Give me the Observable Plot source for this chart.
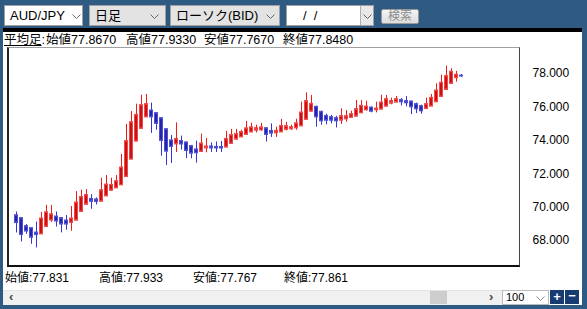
<!DOCTYPE html>
<html><head><meta charset="utf-8">
<script src="https://cdn.jsdelivr.net/npm/d3@7"></script>
<script src="https://cdn.jsdelivr.net/npm/@observablehq/plot@0.6"></script>
<style>
*{box-sizing:border-box}
html,body{margin:0;padding:0}
body{width:587px;height:309px;position:relative;overflow:hidden;background:#2f5a82;font-family:"Liberation Sans","Noto Sans CJK JP",sans-serif;color:#000}
.a{position:absolute;white-space:nowrap}
.box{position:absolute;top:5px;height:21px;border:1px solid #a0a0a0;font-size:13px;line-height:19px;padding-left:5px;white-space:nowrap}
.chev{position:absolute;width:9px;height:5px}
.info{position:absolute;top:33px;font-size:12.5px;line-height:14px;white-space:nowrap}
.bot{position:absolute;top:271px;font-size:12px;line-height:14px;white-space:nowrap}
</style></head><body>
<div class="box" style="left:4px;width:79px;background:#fff">AUD/JPY<svg class="chev" style="left:67px;top:8px"><polyline points="0.5,0.5 4.5,4.5 8.5,0.5" fill="none" stroke="#666"/></svg></div>
<div class="box" style="left:89px;width:77px;background:#e3e3e3">日足<svg class="chev" style="left:60px;top:8px"><polyline points="0.5,0.5 4.5,4.5 8.5,0.5" fill="none" stroke="#666"/></svg></div>
<div class="box" style="left:170px;width:110px;background:#e3e3e3">ローソク(BID)<svg class="chev" style="left:95px;top:8px"><polyline points="0.5,0.5 4.5,4.5 8.5,0.5" fill="none" stroke="#666"/></svg></div>
<div class="box" style="left:286px;width:88px;background:#fff;padding-left:16px">/&nbsp;&nbsp;/
  <div style="position:absolute;left:73px;top:0;width:13px;height:19px;background:#e8e8e8;border-left:1px solid #b0b0b0"><svg class="chev" style="left:2px;top:8px"><polyline points="0.5,0.5 4.5,4.5 8.5,0.5" fill="none" stroke="#666"/></svg></div></div>
<div class="a" style="left:381px;top:9px;width:38px;height:15px;border:1px solid #9a9a9a;border-radius:2px;background:linear-gradient(#f4f4f4,#dcdcdc);color:#8c8c8c;font-size:12px;line-height:13px;text-align:center">検索</div>
<div class="a" style="left:3px;top:28px;width:579px;height:4px;background:#000"></div>
<div class="a" style="left:3px;top:32px;width:579px;height:273px;background:#fff"></div>
<div id="info"></div>
<div class="a" style="left:7px;top:47px;width:513px;height:220px;border-top:1px solid #a0a0a0;border-left:2px solid #222;border-right:1px solid #444;border-bottom:2px solid #111"></div>
<div id="chart" class="a" style="left:0;top:40px"></div>
<div id="bottom"></div>
<div class="a" style="left:3px;top:290px;width:499px;height:15px;background:#f0f0f0;border-top:1px solid #e4e4e4"></div>
<div class="a" style="left:9px;top:289px;font-size:13px;line-height:15px;color:#444;font-weight:bold">&lsaquo;</div>
<div class="a" style="left:489px;top:289px;font-size:13px;line-height:15px;color:#444;font-weight:bold">&rsaquo;</div>
<div class="a" style="left:430px;top:291px;width:17px;height:13px;background:#cdcdcd"></div>
<div class="a" style="left:502px;top:290px;width:47px;height:15px;background:#fff;border:1px solid #bbb;font-size:11px;line-height:13px;padding-left:3px">100<svg class="chev" style="left:33px;top:5px"><polyline points="0.5,0.5 4.5,4.5 8.5,0.5" fill="none" stroke="#888"/></svg></div>
<div class="a" style="left:550px;top:290px;width:14px;height:14px;background:#173c72;color:#fff;font-size:13px;line-height:13px;text-align:center;font-weight:bold">+</div>
<div class="a" style="left:565px;top:290px;width:14px;height:14px;background:#173c72;color:#fff;font-size:13px;line-height:12px;text-align:center;font-weight:bold">−</div>
<script>
// Heikin-Ashi daily candles, AUD/JPY (BID)
const opens  = [69.51,69.34,68.86,68.74,68.48,68.40,68.84,69.23,69.44,69.34,69.20,69.08,69.22,69.74,70.17,70.49,70.46,70.35,70.67,71.01,71.15,71.33,71.83,72.87,73.95,74.71,75.40,75.78,75.62,75.32,74.66,73.99,73.78,73.95,73.87,73.65,73.45,73.33,73.54,73.63,73.60,73.60,73.59,73.81,74.07,74.20,74.35,74.50,74.60,74.62,74.72,74.56,74.44,74.50,74.65,74.68,74.74,74.86,75.25,75.74,76.00,75.70,75.46,75.38,75.32,75.20,75.28,75.37,75.44,75.64,75.82,75.96,75.82,75.86,76.04,76.22,76.28,76.40,76.34,76.32,76.16,76.04,75.90,76.04,76.30,76.62,77.04,77.40,77.74,77.867];
const highs  = [69.71,69.34,68.96,68.74,69.11,69.68,70.11,70.11,69.71,69.35,69.50,70.04,70.93,71.01,71.05,70.75,70.55,71.73,71.89,71.73,71.89,73.15,74.95,75.72,76.16,76.70,76.74,76.22,75.62,75.32,74.66,74.29,75.04,74.25,73.90,73.69,73.95,74.37,74.11,73.84,73.90,73.93,74.54,74.65,74.65,74.60,75.13,75.02,74.90,75.02,74.72,74.98,74.78,75.25,75.07,74.90,75.26,76.28,76.84,76.68,76.04,75.74,75.56,75.49,75.43,75.88,75.78,75.74,76.38,76.38,76.34,75.98,76.28,76.70,76.68,76.52,76.62,76.50,76.62,76.34,76.22,76.10,76.52,76.74,77.38,77.90,78.44,78.28,78.12,77.933];
const lows   = [68.46,67.92,68.38,67.78,67.56,68.40,68.84,69.08,68.81,68.46,68.62,68.56,69.22,69.74,70.17,69.87,70.13,70.35,70.67,70.95,71.15,71.33,71.83,72.87,73.95,74.71,75.40,74.41,74.60,73.05,72.49,72.61,73.27,73.41,72.91,72.89,72.63,73.33,73.25,73.27,73.27,73.27,73.59,73.81,74.01,74.17,74.31,74.44,74.44,74.54,73.90,74.17,74.17,74.47,74.56,74.60,74.60,74.86,75.25,75.66,74.78,74.90,74.92,74.98,74.74,74.95,75.08,75.32,75.44,75.60,75.74,75.64,75.64,75.84,76.00,76.12,76.28,76.06,76.00,75.54,75.60,75.56,75.84,76.04,76.30,76.62,77.04,77.40,77.48,77.767];
const closes = [69.08,68.36,68.57,68.20,68.36,69.32,69.69,69.57,69.17,68.99,68.99,69.32,70.28,70.61,70.73,70.35,70.34,71.01,71.35,71.33,71.55,72.37,73.95,75.08,75.52,76.10,76.16,75.40,75.01,73.99,73.35,73.63,74.08,73.78,73.39,73.23,73.25,73.81,73.63,73.54,73.54,73.54,74.08,74.31,74.37,74.49,74.71,74.77,74.72,74.77,74.35,74.43,74.56,74.86,74.84,74.78,75.01,75.66,76.34,76.18,75.40,75.16,75.20,75.20,75.16,75.44,75.44,75.56,75.86,76.06,76.02,75.74,75.90,76.26,76.46,76.34,76.46,76.30,76.24,76.00,75.88,75.76,76.16,76.54,76.98,77.44,77.84,78.10,77.92,77.848];
const yTicks = [68, 70, 72, 74, 76, 78];
const slots = 100;
const yDomain = [66.45, 79.55];

// header texts
const infoLabel = "平均足";
const infoNames = ["始値", "高値", "安値", "終値"];
const infoValues = ["77.8670", "77.9330", "77.7670", "77.8480"];
const bottomValues = ["77.831", "77.933", "77.767", "77.861"];

const infoX = [46, 126, 204, 283];
const botX = [5, 99, 193, 284];
const info = document.getElementById("info");
info.innerHTML = `<span class="info" style="left:4px"><u>${infoLabel}</u>:</span>` +
  infoNames.map((n, k) => `<span class="info" style="left:${infoX[k]}px">${n}${infoValues[k]}</span>`).join("");
document.getElementById("bottom").innerHTML =
  infoNames.map((n, k) => `<span class="bot" style="left:${botX[k]}px">${n}:${bottomValues[k]}</span>`).join("");

const data = opens.map((o, i) => ({i, o, h: highs[i], l: lows[i], c: closes[i], up: closes[i] >= o}));
const wick = d => d.up ? "#f01a1a" : "#3535d6";
const bodyFill = d => d.up ? "#c81212" : "#2424aa";
const bodyEdge = d => d.up ? "#f24848" : "#5050d4";

const chart = Plot.plot({
  width: 582, height: 230,
  marginTop: 7, marginBottom: 4, marginLeft: 7, marginRight: 62,
  style: {fontFamily: "Liberation Sans, Arial, sans-serif", fontSize: "12px", color: "#000", background: "transparent"},
  x: {type: "band", domain: d3.range(slots), padding: 0.2, axis: null},
  y: {domain: yDomain},
  marks: [
    Plot.axisY(yTicks, {anchor: "right", tickSize: 0, tickPadding: 12, tickFormat: d => d.toFixed(3), fontSize: 12, fill: "#000"}),
    Plot.ruleX(data, {x: "i", y1: "l", y2: "h", stroke: wick, strokeWidth: 1}),
    Plot.barY(data, {x: "i", y1: "o", y2: "c", fill: bodyFill, stroke: bodyEdge, strokeWidth: 1, insetLeft: 0.5, insetRight: 0.5}),
    Plot.tickY(data, {x: "i", y: "o", stroke: bodyEdge, strokeWidth: 1}),
    Plot.tickY(data, {x: "i", y: "c", stroke: bodyEdge, strokeWidth: 1})
  ]
});
document.getElementById("chart").appendChild(chart);
</script>
</body></html>
